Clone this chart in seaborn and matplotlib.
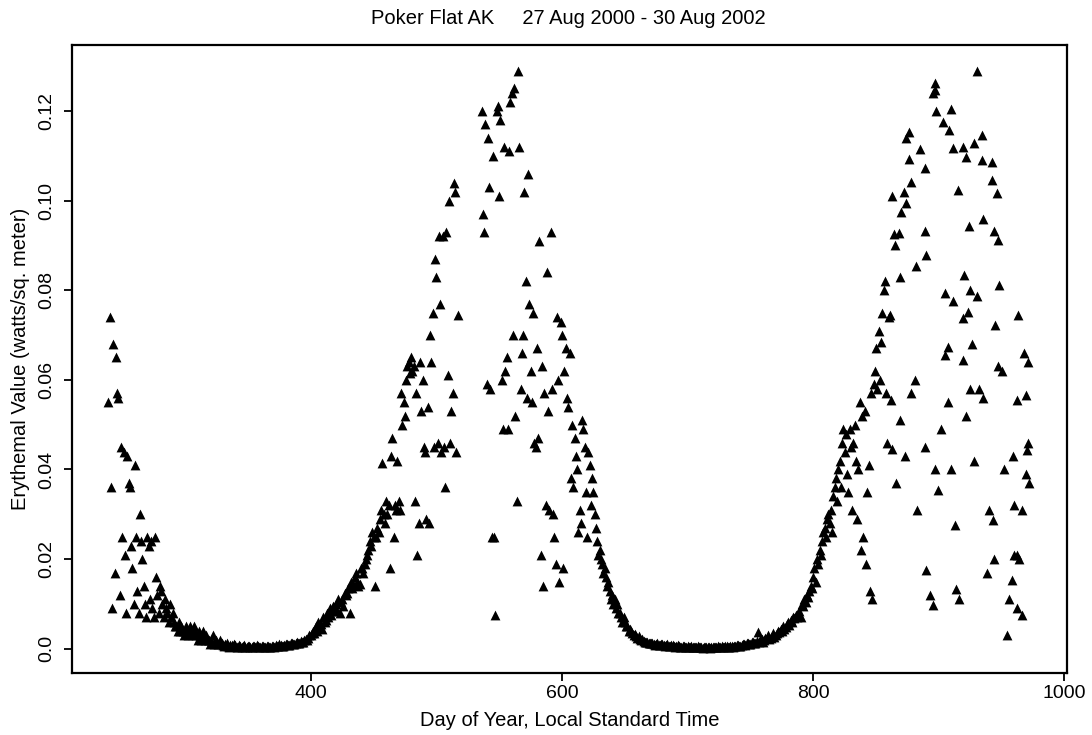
import matplotlib
matplotlib.use("Agg")
import matplotlib.pyplot as plt
import pandas as pd
import seaborn as sns

# ---- data: (day of year since 1 Jan 2000, erythemal value W/m^2) ----
fall_2000 = [
    (239, 0.055), (240, 0.074), (241, 0.036), (242, 0.009), (243, 0.068), (244, 0.017),
    (245, 0.065), (246, 0.057), (247, 0.056), (248, 0.012), (249, 0.045), (250, 0.025),
    (251, 0.044), (252, 0.021), (253, 0.008), (254, 0.043), (255, 0.037), (256, 0.036),
    (257, 0.023), (258, 0.018), (259, 0.010), (260, 0.041), (261, 0.025), (262, 0.013),
    (263, 0.008), (264, 0.030), (265, 0.024), (266, 0.020), (267, 0.014), (268, 0.010),
    (269, 0.007), (270, 0.025), (271, 0.023), (272, 0.011), (273, 0.024), (274, 0.009),
    (275, 0.007), (276, 0.025), (277, 0.016), (278, 0.012), (279, 0.008), (280, 0.014),
    (281, 0.013), (282, 0.010), (283, 0.007), (284, 0.011), (285, 0.009), (286, 0.008),
    (287, 0.006), (288, 0.010), (289, 0.007), (290, 0.008), (291, 0.006), (292, 0.005),
    (293, 0.005), (294, 0.004), (295, 0.006), (296, 0.004), (297, 0.005), (298, 0.004),
    (299, 0.003),
]

winter_2001 = [
    (300, 0.004), (301, 0.005), (302, 0.003), (303, 0.004), (304, 0.005), (305, 0.004),
    (306, 0.003), (307, 0.005), (308, 0.004), (309, 0.003), (310, 0.002), (311, 0.004),
    (312, 0.003), (313, 0.002), (314, 0.004), (315, 0.003), (316, 0.002), (317, 0.003),
    (318, 0.002), (319, 0.002), (320, 0.001), (321, 0.002), (322, 0.003), (323, 0.001),
    (324, 0.0015), (325, 0.002), (326, 0.001), (327, 0.001), (328, 0.002), (329, 0.0012),
    (330, 0.0008), (331, 0.0006), (332, 0.001), (333, 0.0012), (334, 0.0007), (335, 0.0005),
    (336, 0.0009), (337, 0.0008), (338, 0.0006), (339, 0.001), (340, 0.0008), (341, 0.0004),
    (342, 0.0005), (343, 0.0009), (344, 0.0007), (345, 0.0005), (346, 0.0006), (347, 0.0008),
    (348, 0.0004), (349, 0.0005), (350, 0.0006), (351, 0.0007), (352, 0.0005), (353, 0.0004),
    (354, 0.0007), (355, 0.0006), (356, 0.0004), (357, 0.0008), (358, 0.0006), (359, 0.0004),
    (360, 0.0005), (361, 0.0007), (362, 0.0006), (363, 0.0005), (364, 0.0004), (365, 0.0006),
    (366, 0.0007), (367, 0.0004), (368, 0.0005), (369, 0.0007), (370, 0.0006), (371, 0.0005),
    (372, 0.0008), (373, 0.0007), (374, 0.0006), (375, 0.001), (376, 0.0009), (377, 0.0006),
    (378, 0.0007), (379, 0.0009), (380, 0.001), (381, 0.0011), (382, 0.0009), (383, 0.0008),
    (384, 0.0012), (385, 0.0013), (386, 0.001), (387, 0.0011), (388, 0.0014), (389, 0.0016),
    (390, 0.0012), (391, 0.0014), (392, 0.0018), (393, 0.0016), (394, 0.0015), (395, 0.002),
    (396, 0.0022), (397, 0.0019), (398, 0.0025), (399, 0.003),
]

spring_2001 = [
    (400, 0.003), (401, 0.0035), (402, 0.004), (403, 0.0035), (404, 0.005), (405, 0.004),
    (406, 0.006), (407, 0.005), (408, 0.0055), (409, 0.0045), (410, 0.007), (411, 0.006),
    (412, 0.0065), (413, 0.008), (414, 0.007), (415, 0.009), (416, 0.0075), (417, 0.0085),
    (418, 0.0095), (419, 0.0087), (420, 0.010), (421, 0.0085), (422, 0.011), (423, 0.008),
    (424, 0.0105), (425, 0.011), (426, 0.0095), (427, 0.0125), (428, 0.012), (429, 0.0125),
    (430, 0.0135), (431, 0.008), (432, 0.015), (433, 0.0135), (434, 0.0145), (435, 0.016),
    (436, 0.017), (437, 0.015), (438, 0.014), (439, 0.0145), (440, 0.018), (441, 0.018),
    (442, 0.017), (443, 0.019), (444, 0.020), (445, 0.021), (446, 0.022), (447, 0.024),
    (448, 0.023), (449, 0.026), (450, 0.025), (451, 0.014), (452, 0.025), (453, 0.027),
    (454, 0.026), (455, 0.029), (456, 0.031), (457, 0.0415), (458, 0.030), (459, 0.028),
    (460, 0.033), (461, 0.030), (462, 0.032), (463, 0.018), (464, 0.043), (465, 0.047),
    (466, 0.025), (467, 0.032), (468, 0.031), (469, 0.042), (470, 0.033), (471, 0.031),
    (472, 0.057), (473, 0.050), (474, 0.055), (475, 0.052), (476, 0.060), (477, 0.063),
    (478, 0.064), (479, 0.0615), (480, 0.065), (481, 0.062), (482, 0.063), (483, 0.033),
    (484, 0.057), (485, 0.021), (486, 0.028), (487, 0.064), (488, 0.053), (489, 0.060),
    (490, 0.045), (491, 0.044), (492, 0.029), (493, 0.054), (494, 0.028), (495, 0.070),
    (496, 0.064), (497, 0.075), (498, 0.045), (499, 0.087), (500, 0.083), (501, 0.046),
    (502, 0.092), (503, 0.077), (504, 0.044), (505, 0.092), (506, 0.045), (507, 0.036),
    (508, 0.093), (509, 0.061), (510, 0.100), (511, 0.046), (512, 0.053), (513, 0.057),
    (514, 0.104), (515, 0.102), (516, 0.044), (517, 0.0745),
]

summer_2001 = [
    (536, 0.120), (537, 0.097), (538, 0.093), (539, 0.117), (540, 0.059), (541, 0.114),
    (542, 0.103), (543, 0.058), (544, 0.025), (545, 0.110), (546, 0.025), (547, 0.0075),
    (548, 0.120), (549, 0.121), (550, 0.101), (551, 0.118), (552, 0.060), (553, 0.049),
    (554, 0.112), (555, 0.062), (556, 0.065), (557, 0.049), (558, 0.111), (559, 0.122),
    (560, 0.124), (561, 0.070), (562, 0.125), (563, 0.052), (564, 0.033), (565, 0.129),
    (566, 0.112), (567, 0.058), (568, 0.066), (569, 0.070), (570, 0.102), (571, 0.082),
    (572, 0.056), (573, 0.106), (574, 0.077), (575, 0.062), (576, 0.055), (577, 0.075),
    (578, 0.046), (579, 0.045), (580, 0.067), (581, 0.047), (582, 0.091), (583, 0.021),
    (584, 0.063), (585, 0.014), (586, 0.057), (587, 0.032), (588, 0.084), (589, 0.053),
    (590, 0.031), (591, 0.093), (592, 0.058), (593, 0.030), (594, 0.025), (595, 0.019),
    (596, 0.074), (597, 0.060), (598, 0.015), (599, 0.073), (600, 0.070), (601, 0.018),
    (602, 0.062), (603, 0.067), (604, 0.056), (605, 0.054), (606, 0.066), (607, 0.038),
    (608, 0.050), (609, 0.036), (610, 0.047), (611, 0.043), (612, 0.040), (613, 0.026),
    (614, 0.031), (615, 0.028), (616, 0.051), (617, 0.049), (618, 0.045), (619, 0.035),
    (620, 0.025), (621, 0.044), (622, 0.041), (623, 0.032), (624, 0.038), (625, 0.035),
    (626, 0.030), (627, 0.027), (628, 0.024), (629, 0.021),
]

fall_2001 = [
    (630, 0.022), (631, 0.020), (632, 0.019), (633, 0.017), (634, 0.018), (635, 0.016),
    (636, 0.014), (637, 0.015), (638, 0.013), (639, 0.011), (640, 0.012), (641, 0.010),
    (642, 0.011), (643, 0.009), (644, 0.010), (645, 0.008), (646, 0.008), (647, 0.007),
    (648, 0.006), (649, 0.007), (650, 0.006), (651, 0.005), (652, 0.005), (653, 0.004),
    (654, 0.0045), (655, 0.004), (656, 0.0035), (657, 0.003), (658, 0.0032), (659, 0.0028),
    (660, 0.0025), (661, 0.0028), (662, 0.0022), (663, 0.002), (664, 0.0022), (665, 0.0018),
    (666, 0.0016), (667, 0.0015), (668, 0.0016), (669, 0.0012), (670, 0.0013),
]

winter_2002 = [
    (671, 0.0012), (672, 0.0014), (673, 0.0010), (674, 0.0009), (675, 0.0011), (676, 0.0012),
    (677, 0.0009), (678, 0.0008), (679, 0.0010), (680, 0.0011), (681, 0.0008), (682, 0.0007),
    (683, 0.0009), (684, 0.0010), (685, 0.0007), (686, 0.0006), (687, 0.0008), (688, 0.0009),
    (689, 0.0006), (690, 0.0005), (691, 0.0007), (692, 0.0008), (693, 0.0006), (694, 0.0004),
    (695, 0.0005), (696, 0.0007), (697, 0.0006), (698, 0.0004), (699, 0.0005), (700, 0.0006),
    (701, 0.0004), (702, 0.0003), (703, 0.0006), (704, 0.0005), (705, 0.0004), (706, 0.0003),
    (707, 0.0005), (708, 0.0006), (709, 0.0003), (710, 0.0004), (711, 0.0005), (712, 0.0002),
    (713, 0.0004), (714, 0.0005), (715, 0.0003), (716, 0.0004), (717, 0.0005), (718, 0.0002),
    (719, 0.0004), (720, 0.0004), (721, 0.0003), (722, 0.0003), (723, 0.0005), (724, 0.0006),
    (725, 0.0004), (726, 0.0003), (727, 0.0006), (728, 0.0005), (729, 0.0005), (730, 0.0007),
    (731, 0.0006), (732, 0.0004), (733, 0.0005), (734, 0.0006), (735, 0.0007), (736, 0.0005),
    (737, 0.0006), (738, 0.0007), (739, 0.0008), (740, 0.0009), (741, 0.0007), (742, 0.0006),
    (743, 0.0009), (744, 0.0011), (745, 0.0010), (746, 0.0008), (747, 0.0012), (748, 0.0013),
    (749, 0.0011), (750, 0.0010), (751, 0.0015), (752, 0.0016), (753, 0.0014), (754, 0.0012),
    (755, 0.0018), (756, 0.0038), (757, 0.0016), (758, 0.0020), (759, 0.0021), (760, 0.0015),
    (761, 0.0019), (762, 0.0023), (763, 0.0025), (764, 0.0030), (765, 0.0022), (766, 0.0024),
    (767, 0.0028), (768, 0.0035), (769, 0.0026), (770, 0.0030),
]

spring_2002 = [
    (771, 0.0035), (772, 0.004), (773, 0.0038), (774, 0.0045), (775, 0.004), (776, 0.005),
    (777, 0.0045), (778, 0.0048), (779, 0.0055), (780, 0.006), (781, 0.0052), (782, 0.0065),
    (783, 0.006), (784, 0.007), (785, 0.0068), (786, 0.0075), (787, 0.007), (788, 0.008),
    (789, 0.0085), (790, 0.0072), (791, 0.010), (792, 0.0095), (793, 0.011), (794, 0.0105),
    (795, 0.012), (796, 0.0115), (797, 0.013), (798, 0.014), (799, 0.0135), (800, 0.016),
    (801, 0.018), (802, 0.015), (803, 0.020), (804, 0.019), (805, 0.022), (806, 0.021),
    (807, 0.024), (808, 0.026), (809, 0.027), (810, 0.025), (811, 0.029), (812, 0.030),
    (813, 0.028), (814, 0.031), (815, 0.026), (816, 0.034), (817, 0.036), (818, 0.038),
    (819, 0.033), (820, 0.040), (821, 0.042), (822, 0.036), (823, 0.046), (824, 0.049),
    (825, 0.044), (826, 0.048), (827, 0.039), (828, 0.035), (829, 0.049), (830, 0.045),
    (831, 0.031), (832, 0.046), (833, 0.050), (834, 0.042), (835, 0.029), (836, 0.040),
    (837, 0.055), (838, 0.022), (839, 0.052), (840, 0.025), (841, 0.053), (842, 0.019),
    (843, 0.035), (844, 0.041), (845, 0.013), (846, 0.057), (847, 0.011), (848, 0.059),
    (849, 0.062), (850, 0.067), (851, 0.058), (852, 0.071), (853, 0.060), (854, 0.0685),
    (855, 0.075), (856, 0.080), (857, 0.082), (858, 0.057), (859, 0.046), (860, 0.074),
    (861, 0.0745),
]

summer_2002 = [
    (862, 0.0555), (863, 0.1011), (863, 0.0445), (864, 0.0926), (865, 0.0901), (866, 0.037),
    (868, 0.0927), (869, 0.083), (869, 0.051), (870, 0.0975), (872, 0.102), (873, 0.043),
    (874, 0.114), (874, 0.0994), (876, 0.1154), (876, 0.1093), (878, 0.1042), (878, 0.057),
    (881, 0.060), (882, 0.0854), (883, 0.031), (885, 0.1115), (889, 0.0932), (889, 0.1072),
    (889, 0.045), (890, 0.0879), (890, 0.0176), (893, 0.012), (895, 0.124), (895, 0.0098),
    (897, 0.1262), (897, 0.1247), (897, 0.040), (898, 0.1199), (899, 0.0355), (902, 0.049),
    (903, 0.1176), (905, 0.0793), (905, 0.0656), (907, 0.0674), (907, 0.055), (908, 0.1158),
    (910, 0.1204), (910, 0.040), (911, 0.1117), (911, 0.0775), (913, 0.0277), (914, 0.0134),
    (915, 0.1024), (916, 0.011), (919, 0.112), (919, 0.0739), (919, 0.0645), (920, 0.0834),
    (922, 0.1097), (922, 0.052), (923, 0.0752), (924, 0.0944), (925, 0.0801), (925, 0.058),
    (926, 0.068), (928, 0.1129), (928, 0.042), (930, 0.1288), (930, 0.0786), (932, 0.058),
    (934, 0.1147), (934, 0.109), (935, 0.0959), (935, 0.056), (938, 0.017), (940, 0.031),
    (942, 0.1046), (942, 0.1085), (943, 0.0288), (944, 0.0931), (944, 0.020), (945, 0.0723),
    (946, 0.1017), (947, 0.0912), (947, 0.063), (948, 0.0812), (950, 0.062), (952, 0.040),
    (954, 0.003), (956, 0.011), (958, 0.0154), (959, 0.043), (960, 0.032), (960, 0.021),
    (962, 0.0555), (962, 0.021), (962, 0.009), (963, 0.0745), (964, 0.020), (966, 0.0076),
    (966, 0.031), (968, 0.066), (969, 0.0567), (969, 0.039), (970, 0.0444), (971, 0.064),
    (971, 0.046), (972, 0.037),
]

title_text = "Poker Flat AK     27 Aug 2000 - 30 Aug 2002"
x_label = "Day of Year, Local Standard Time"
y_label = "Erythemal Value (watts/sq. meter)"
x_ticks = [400, 600, 800, 1000]
y_ticks = [0.0, 0.02, 0.04, 0.06, 0.08, 0.10, 0.12]
y_tick_labels = ["0.0", "0.02", "0.04", "0.06", "0.08", "0.10", "0.12"]

segments = [fall_2000, winter_2001, spring_2001, summer_2001,
            fall_2001, winter_2002, spring_2002, summer_2002]
df = pd.DataFrame([p for seg in segments for p in seg], columns=["day", "value"])

# ---- plot ----
sns.set_theme(style="white")
plt.rcParams["font.family"] = ["Liberation Sans", "DejaVu Sans"]

W, H = 1092, 735
fig = plt.figure(figsize=(W / 100, H / 100), dpi=100)
ax = fig.add_axes([72 / W, 62 / H, 995 / W, 628 / H])

sns.scatterplot(data=df, x="day", y="value", marker="^", s=50, color="black",
                linewidth=0, ax=ax, legend=False)

ax.set_xlim(210, 1002)
ax.set_ylim(-0.0054, 0.1347)
ax.set_xticks(x_ticks)
ax.set_xticklabels([str(t) for t in x_ticks])
ax.set_yticks(y_ticks)
ax.set_yticklabels(y_tick_labels, rotation=90, va="center")

for sp in ax.spines.values():
    sp.set_visible(True)
    sp.set_color("black")
    sp.set_linewidth(1.6)

ax.tick_params(axis="both", which="both", direction="out", length=6, width=1.3,
               color="black", labelcolor="black", labelsize=14,
               bottom=True, left=True, top=False, right=False)
ax.tick_params(axis="x", pad=3)
ax.tick_params(axis="y", pad=6)

ax.set_xlabel(x_label, fontsize=14.5, color="black", labelpad=6)
ax.set_ylabel(y_label, fontsize=14.5, color="black", labelpad=6)

fig.text(0.52, 1 - 18 / H, title_text, ha="center", va="center", fontsize=14.5, color="black")

fig.savefig("out.png", dpi=100, facecolor="white")
